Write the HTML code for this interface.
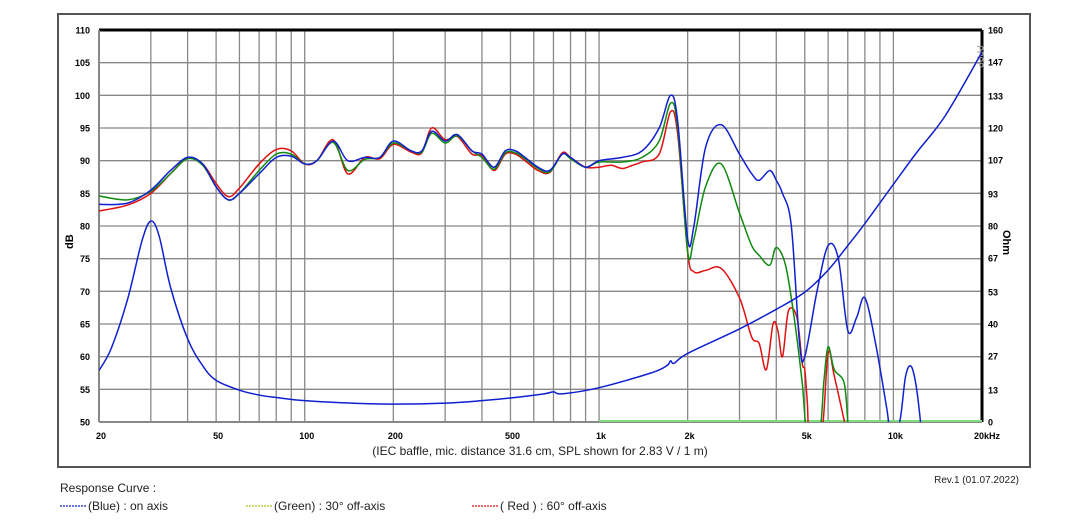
<!DOCTYPE html>
<html><head><meta charset="utf-8"><style>
body{margin:0;background:#fff;font-family:"Liberation Sans",sans-serif;}
#wrap{position:relative;width:1075px;height:528px;overflow:hidden;}
</style></head><body>
<div id="wrap">
<svg id="chart" width="1075" height="528"></svg>
</div>
<script>
const freqBlue=[20,25,30,35,40,45,50,55,60,70,80,90,100,110,125,140,160,180,200,230,250,270,300,330,370,400,440,480,520,560,620,680,750,800,900,1000,1200,1400,1600,1750,1850,2000,2100,2300,2600,3000,3300,3500,3800,4000,4200,4500,4800,5000,5500,6000,6500,7000,7500,8000,8700,9500,9800,10500,11000,11500,12000,12500];
const splBlue=[83.3,83.5,85.5,88.5,90.5,89.5,86,84,85,88,90.5,90.7,89.5,90,93,90,90.5,90.5,93,91.5,91.5,94.5,93,94,91.5,91,89,91.5,91.5,90.5,89,88.5,91,90.5,89,90,90.5,91.5,95,100,96,78,80,92,95.5,91,88,87,88.5,87,85,80,62,60,70,77,75,64,66,69,62,52,48,50,57,58.5,55,48];
const freqGreen=[20,25,30,35,40,45,50,55,60,70,80,90,100,110,125,140,160,180,200,230,250,270,300,330,370,400,440,480,520,560,620,680,750,800,900,1000,1200,1400,1600,1750,1850,2000,2100,2300,2600,3000,3300,3500,3800,4000,4300,4600,4900,5100,5600,5800,6000,6300,6800,7000];
const splGreen=[84.6,84,85.3,88,90.3,89.3,86,84,85,88.5,91,91,89.5,90,92.8,88.5,90.2,90.5,92.7,91.5,91.3,94.2,92.7,93.8,91.5,90.5,88.7,91.2,91.2,90.3,88.8,88.3,91,90.3,89,89.8,89.8,90.5,93,98.8,95,76,78,86,89.5,82,77,75.5,74,76.7,74,66,56,48,48,56,61.5,58,56,50];
const freqRed=[20,25,30,35,40,45,50,55,60,70,80,90,100,110,125,140,160,180,200,230,250,270,300,330,370,400,440,480,520,560,620,680,750,800,900,1000,1100,1200,1300,1400,1600,1750,1850,2000,2100,2300,2600,3000,3300,3500,3700,3900,4050,4200,4400,4700,4900,5000,5100,5200,5700,6000,6300,6900];
const splRed=[82.3,83.2,85,88,90.4,89.5,86.5,84.5,85.8,89.5,91.7,91.5,89.5,90,93.2,88,90.5,90.3,92.5,91.3,91.2,95,93.2,93.7,91,90.8,88.5,91,91,90,88.5,88.2,91.2,90.5,89,89,89.3,88.8,89.3,89.8,91,97.5,94,76,73,73.2,73.5,69,63,62,58,65,64,60,67,66,59,58,53,48,48,60.5,57,49];
const freqImp=[20,22,25,28,30,32,35,40,45,50,60,70,80,100,150,200,300,400,500,650,700,750,1000,1500,1700,1750,1800,2000,3000,4000,5000,6000,7000,8000,10000,12000,15000,20000];
const ohmImp=[21,30,50,74,82,76,55,34,23,17,13,11,10,8.7,7.6,7.3,7.7,8.7,9.8,11.5,12.3,11.5,14,20,23,25,24,28,38,46,53,62,72,81,97,110,125,151];
const dbTicks=[50,55,60,65,70,75,80,85,90,95,100,105,110];
const ohmTicks=[0,13,27,40,53,67,80,93,107,120,133,147,160];
const freqLabels=[[20,"20"],[50,"50"],[100,"100"],[200,"200"],[500,"500"],[1000,"1k"],[2000,"2k"],[5000,"5k"],[10000,"10k"],[20000,"20kHz"]];

const L=99,R=982,T=30,B=422;
const dec=(R-L)/3;
function xf(f){return L+dec*Math.log10(f/20);}
function yd(d){return B-(d-50)*(B-T)/60;}
function yo(o){return B-o*(B-T)/160;}
const NS="http://www.w3.org/2000/svg";
const svg=document.getElementById('chart');
function el(t,a,p){const e=document.createElementNS(NS,t);for(const k in a)e.setAttribute(k,a[k]);(p||svg).appendChild(e);return e;}
function txt(x,y,s,a){const e=el('text',Object.assign({x:x,y:y,'font-size':10,fill:'#000'},a||{}));e.textContent=s;return e;}

const frame=el('rect',{x:58,y:14,width:972,height:453,fill:'none',stroke:'#555','stroke-width':2});


const defs=el('defs',{});
const cp=el('clipPath',{id:'clip'},defs);el('rect',{x:L,y:T,width:R-L,height:B-T},cp);

const grid=el('g',{stroke:'#888','stroke-width':1.3});


for(let dcd=10;dcd<=10000;dcd*=10){for(let m=1;m<10;m++){const f=dcd*m;if(f<20||f>20000)continue;el('line',{x1:xf(f),x2:xf(f),y1:T,y2:B},grid);}}
dbTicks.forEach(d=>{el('line',{x1:L,x2:R,y1:yd(d),y2:yd(d)},grid);});
el('line',{x1:L,x2:R,y1:T,y2:T,stroke:'#000','stroke-width':3});
el('line',{x1:R,x2:R,y1:T,y2:B,stroke:'#000','stroke-width':3});
el('line',{x1:L,x2:L,y1:T,y2:B,stroke:'#888','stroke-width':2});
el('line',{x1:L,x2:R,y1:B,y2:B,stroke:'#888','stroke-width':2});

dbTicks.forEach(d=>{const t=txt(90,yd(d)+3.5,String(d),{'text-anchor':'end','font-size':9,'font-weight':'bold'});});
ohmTicks.forEach(o=>{const t=txt(988,yo(o)+3.5,String(o),{'font-size':9,'font-weight':'bold'});});
freqLabels.forEach(([f,s])=>{const t=txt(xf(f)+(f==20000?5:2),439,s,{'text-anchor':'middle','font-size':9,'font-weight':'bold'});});
const yl=txt(0,0,'dB',{transform:'translate(73,249) rotate(-90)','font-size':11,'font-weight':'bold'});

const yr=txt(0,0,'Ohm',{transform:'translate(1003,230) rotate(90)','font-size':11,'font-weight':'bold'});

const xt=txt(540,455,'(IEC baffle, mic. distance 31.6 cm, SPL shown for 2.83 V / 1 m)',{'text-anchor':'middle','font-size':12,fill:'#222'});

const mk=txt(977,45,'ᑭᑭᑭᑭ',{'font-size':9,fill:'#999',transform:'rotate(90 977 45)'});


function path(fs,vs,yfn){const p=fs.map((f,i)=>[xf(f),yfn(vs[i])]);let d='M'+p[0][0]+','+p[0][1];
for(let i=0;i<p.length-1;i++){const p0=p[i-1]||p[i],p1=p[i],p2=p[i+1],p3=p[i+2]||p2;
d+=' C'+(p1[0]+(p2[0]-p0[0])/6)+','+(p1[1]+(p2[1]-p0[1])/6)+' '+(p2[0]-(p3[0]-p1[0])/6)+','+(p2[1]-(p3[1]-p1[1])/6)+' '+p2[0]+','+p2[1];}return d;}
const curves=el('g',{'clip-path':'url(#clip)',fill:'none','stroke-width':1.5});
const zl=el('line',{x1:xf(1000),x2:R,y1:B-1,y2:B-1,stroke:'#7ddc7d','stroke-width':2},curves);

const pr=el('path',{d:path(freqRed,splRed,yd),stroke:'#e01010'},curves);

const pg=el('path',{d:path(freqGreen,splGreen,yd),stroke:'#108a10'},curves);

const pb=el('path',{d:path(freqBlue,splBlue,yd),stroke:'#1020d0'},curves);

const pi=el('path',{d:path(freqImp,ohmImp,yo),stroke:'#1020d0'},curves);


const rv=txt(1019,483,'Rev.1 (01.07.2022)',{'text-anchor':'end','font-size':10,fill:'#222'});

const lt=txt(60,492,'Response Curve :',{'font-size':12,fill:'#222'});

[[60,'#1020d0','(Blue)  : on axis'],[246,'#a8c820','(Green) : 30° off-axis'],[472,'#e01010','( Red ) : 60° off-axis']].forEach(([x,c,s])=>{
const g=el('g',{});


el('line',{x1:x,x2:x+27,y1:506,y2:506,stroke:c,'stroke-width':1.2,'stroke-dasharray':'2,1'},g);
const t=el('text',{x:x+28,y:510,'font-size':12,fill:'#222'},g);t.textContent=s;});
</script>
</body></html>
